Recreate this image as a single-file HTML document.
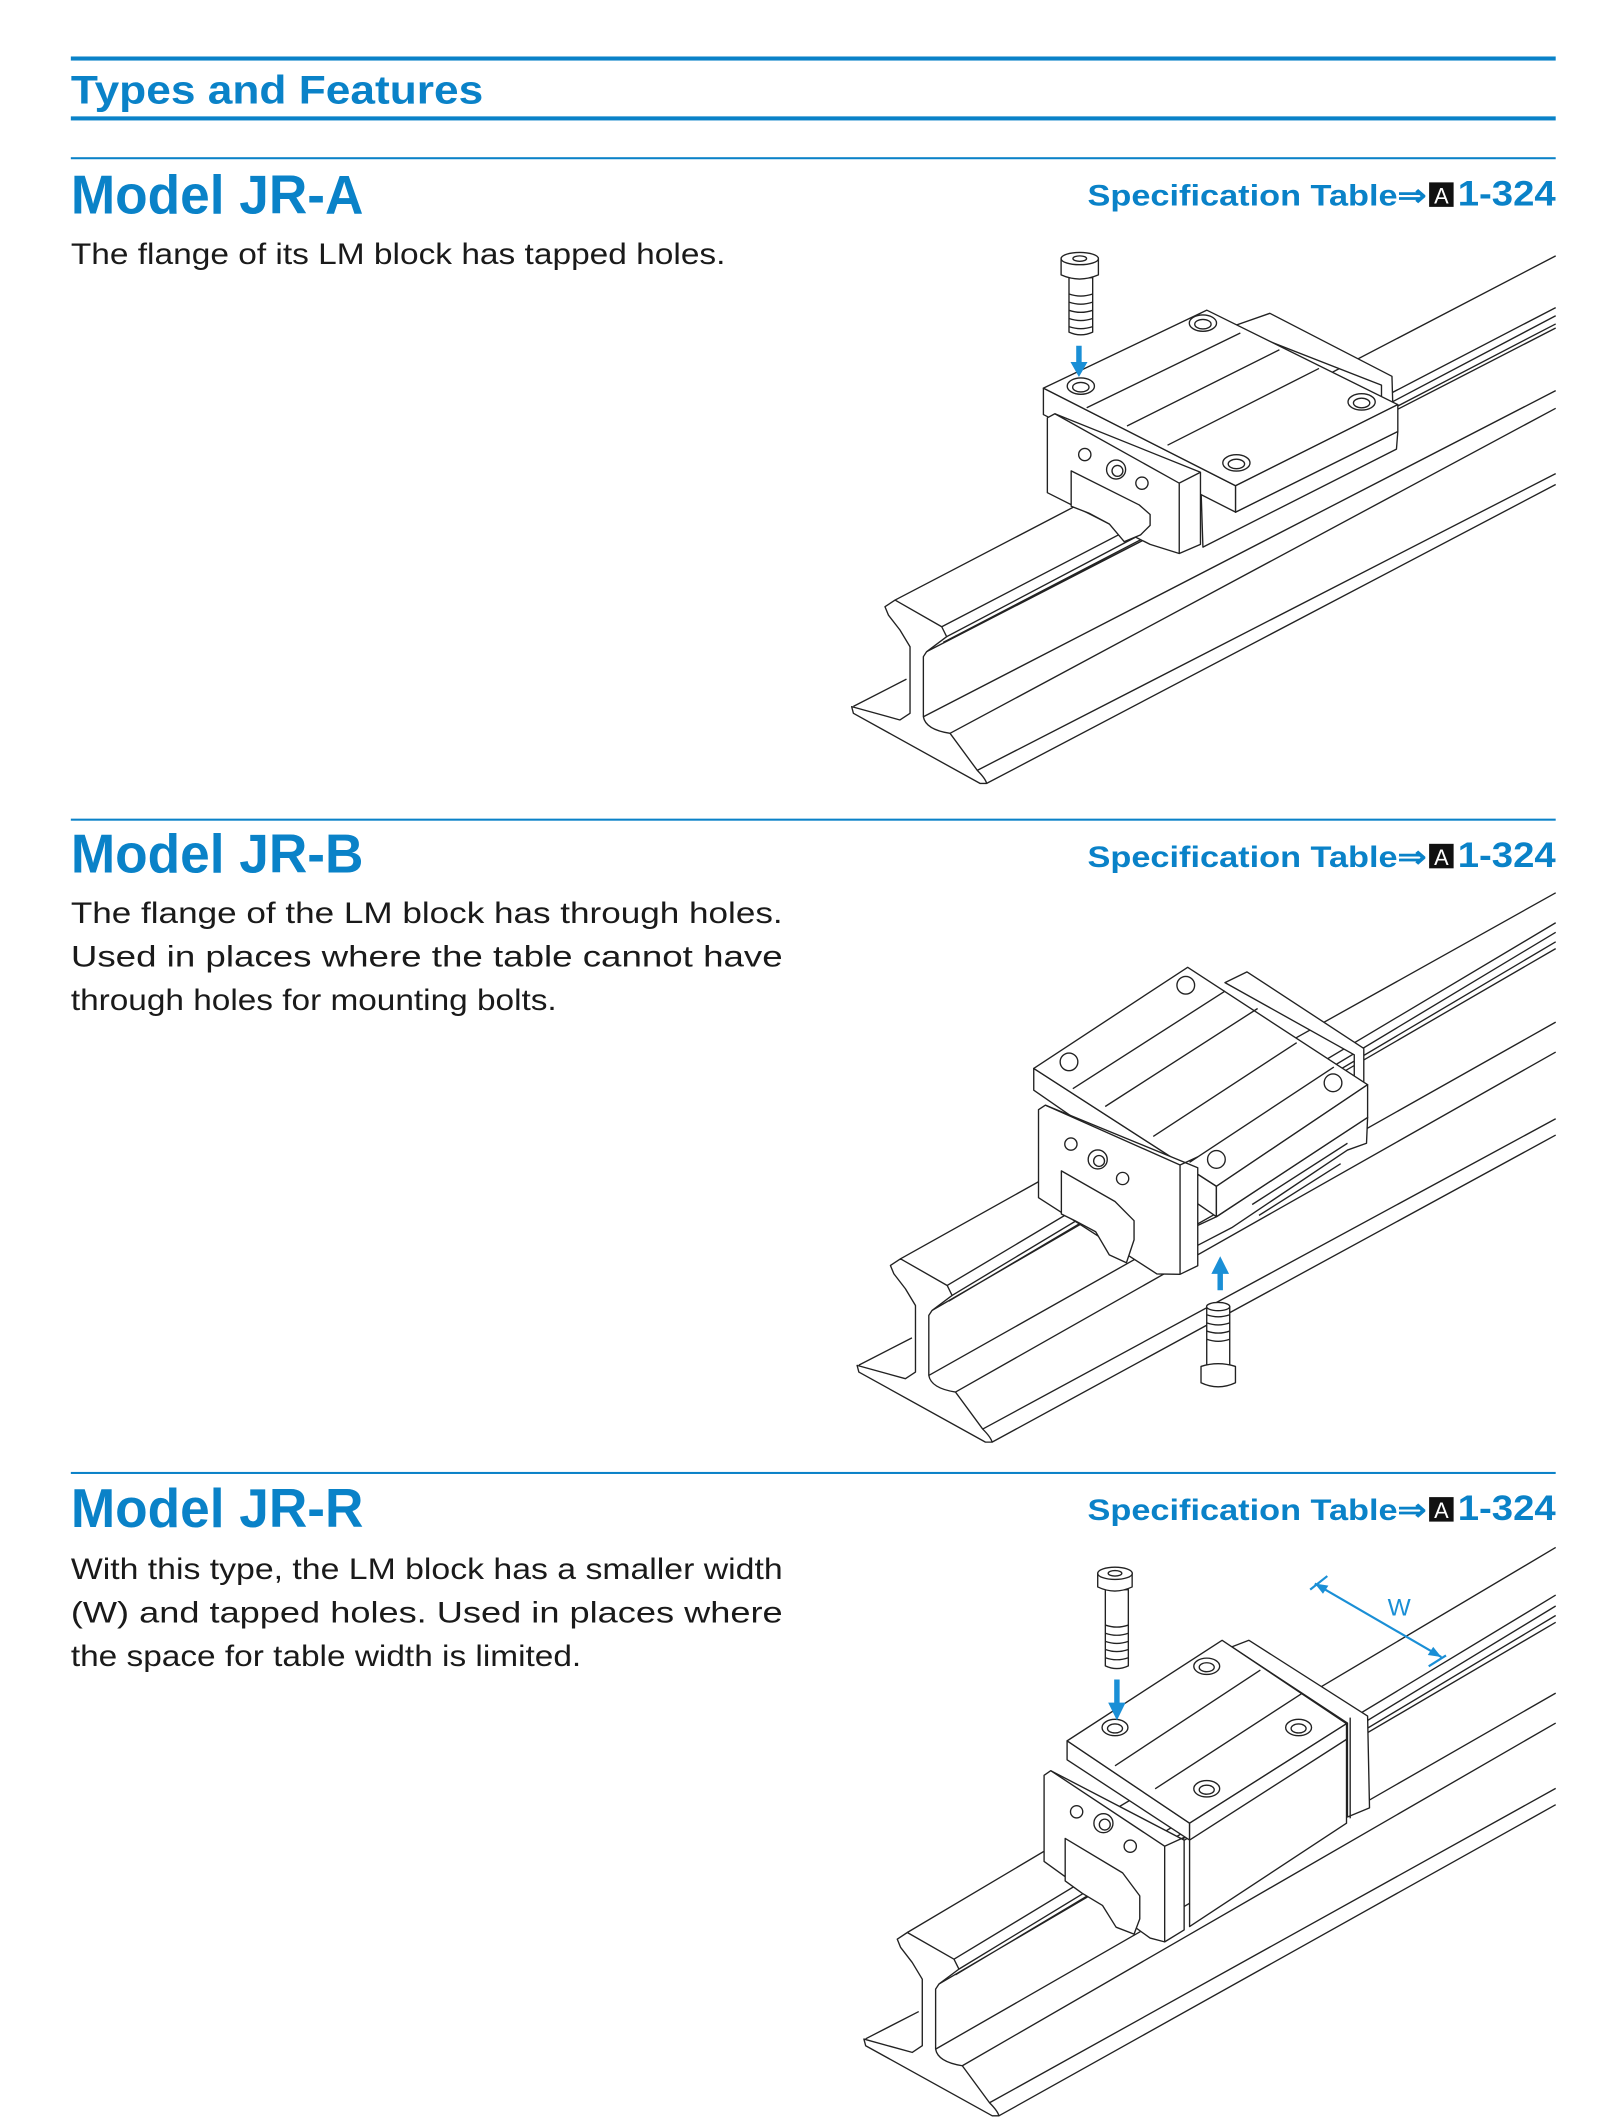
<!DOCTYPE html>
<html><head><meta charset="utf-8"><style>
html,body{margin:0;padding:0;background:#fff}
svg{display:block}
.h{font-family:"Liberation Sans Narrow","Liberation Sans",sans-serif;font-weight:bold;fill:#0a82c8}
.d{font-family:"Liberation Sans",sans-serif;fill:#1a1a1a;font-size:21.5px}
.s{font-family:"Liberation Sans",sans-serif;font-weight:bold;fill:#0a82c8}
.dr{fill:#fff;stroke:#222;stroke-width:1;stroke-linejoin:round}
.ln{fill:none;stroke:#222;stroke-width:1}
</style></head><body>
<svg width="1617" height="2121" viewBox="0 0 1188 1558.4" xmlns="http://www.w3.org/2000/svg">
<!-- header -->
<rect x="52" y="41.5" width="1091" height="3" fill="#0a82c8"/>
<text class="h" x="52" y="76" font-size="29" textLength="303" lengthAdjust="spacingAndGlyphs">Types and Features</text>
<rect x="52" y="85.5" width="1091" height="3" fill="#0a82c8"/>

<!-- section texts -->
<rect x="52" y="115.5" width="1091" height="1.5" fill="#0a82c8"/>
<text class="h" x="52" y="157" font-size="40" textLength="215" lengthAdjust="spacingAndGlyphs">Model JR-A</text>
<text class="d" x="52" y="194" textLength="481" lengthAdjust="spacingAndGlyphs">The flange of its LM block has tapped holes.</text>
<text class="s" x="799" y="151" font-size="22" textLength="249" lengthAdjust="spacingAndGlyphs">Specification Table⇒</text>
<rect x="1050" y="134" width="18" height="18" fill="#111"/><text x="1059" y="149.5" font-family="Liberation Sans,sans-serif" font-size="16" fill="#fff" text-anchor="middle">A</text>
<text class="s" x="1071" y="151" font-size="26" textLength="72" lengthAdjust="spacingAndGlyphs">1-324</text>

<rect x="52" y="601.5" width="1091" height="1.5" fill="#0a82c8"/>
<text class="h" x="52" y="641" font-size="40" textLength="215" lengthAdjust="spacingAndGlyphs">Model JR-B</text>
<text class="d" x="52" y="678" textLength="523" lengthAdjust="spacingAndGlyphs">The flange of the LM block has through holes.</text>
<text class="d" x="52" y="710" textLength="523" lengthAdjust="spacingAndGlyphs">Used in places where the table cannot have</text>
<text class="d" x="52" y="742" textLength="357" lengthAdjust="spacingAndGlyphs">through holes for mounting bolts.</text>
<text class="s" x="799" y="637" font-size="22" textLength="249" lengthAdjust="spacingAndGlyphs">Specification Table⇒</text>
<rect x="1050" y="620" width="18" height="18" fill="#111"/><text x="1059" y="635.5" font-family="Liberation Sans,sans-serif" font-size="16" fill="#fff" text-anchor="middle">A</text>
<text class="s" x="1071" y="637" font-size="26" textLength="72" lengthAdjust="spacingAndGlyphs">1-324</text>

<rect x="52" y="1081.5" width="1091" height="1.5" fill="#0a82c8"/>
<text class="h" x="52" y="1122" font-size="40" textLength="215" lengthAdjust="spacingAndGlyphs">Model JR-R</text>
<text class="d" x="52" y="1160" textLength="523" lengthAdjust="spacingAndGlyphs">With this type, the LM block has a smaller width</text>
<text class="d" x="52" y="1192" textLength="523" lengthAdjust="spacingAndGlyphs">(W) and tapped holes. Used in places where</text>
<text class="d" x="52" y="1224" textLength="375" lengthAdjust="spacingAndGlyphs">the space for table width is limited.</text>
<text class="s" x="799" y="1117" font-size="22" textLength="249" lengthAdjust="spacingAndGlyphs">Specification Table⇒</text>
<rect x="1050" y="1100" width="18" height="18" fill="#111"/><text x="1059" y="1115.5" font-family="Liberation Sans,sans-serif" font-size="16" fill="#fff" text-anchor="middle">A</text>
<text class="s" x="1071" y="1117" font-size="26" textLength="72" lengthAdjust="spacingAndGlyphs">1-324</text>

<!-- ============ SECTION 1 DRAWING ============ -->
<g>
<path class="ln" d="M657.6,440.9 L1143,188 M691.9,460.5 L1143,226 M695.5,467.8 L1143,232 M693,472 L1143,238 M680.8,478.8 L1143,241 M678.4,526.6 L1143,287 M698,538.8 L1143,300 M718,566 L1143,348 M724.9,575.6 L1143,356 M627,519 L666,499"/>
<path class="dr" d="M650.2,445.8 L657.6,440.9 L691.9,460.5 L695.5,467.8 L680.8,478.8 L678.4,482.5 L678.4,526.6 Q680,536 698,538.8 L718,566 Q724,572 724.9,575.6 L720,575.6 L627,524.1 L625.7,519.2 L661.2,529 L668.6,524.1 L668.6,475.2 L661.2,462.9 L652.7,451.9 Z"/>
<!-- block -->
<path class="dr" d="M905,240 L933,230.2 L1022.7,276.5 L1024,322 L1015,325 L1015,283 Z"/>
<path class="dr" d="M882,347 L907.8,356.9 L907.8,376.3 L1027,317 L1026,330 L883.8,402 Z"/>
<path class="dr" d="M766.6,285.2 L907.8,356.9 L907.8,376.3 L766.6,304.6 Z"/>
<path class="dr" d="M766.6,285.2 L886.7,227.9 L1027,297.3 L907.8,356.9 Z"/>
<path class="dr" d="M1027,297.3 L1027,317 L907.8,376.3 L907.8,356.9 Z"/>
<path class="ln" d="M798.4,299.6 L911.3,244.7 M857.8,327.1 L969.1,270.7 M828,313 L940,257"/>
<path class="dr" d="M769.5,307 L775,304 L882,347 L882,400 L866.4,406.7 L845,400 L769.5,362 Z"/>
<path class="ln" d="M866.4,355 L866.4,406.7 M775,304 L866.4,355 L882,347"/>
<path class="dr" d="M787,346 L837,371 L845,378 L845,386 L838,393 L826,398 L815,385 L800,377 L787,372 Z"/>
<ellipse class="dr" cx="794.1" cy="283.7" rx="10" ry="6"/><ellipse class="ln" cx="794.1" cy="284.5" rx="6" ry="3.5"/>
<ellipse class="dr" cx="883.8" cy="237.4" rx="10" ry="6"/><ellipse class="ln" cx="883.8" cy="238.2" rx="6" ry="3.5"/>
<ellipse class="dr" cx="1000.4" cy="295.3" rx="10" ry="6"/><ellipse class="ln" cx="1000.4" cy="296.1" rx="6" ry="3.5"/>
<ellipse class="dr" cx="908.4" cy="340.1" rx="10" ry="6"/><ellipse class="ln" cx="908.4" cy="340.9" rx="6" ry="3.5"/>
<circle class="dr" cx="797" cy="334" r="4.5"/><circle class="dr" cx="820" cy="345" r="7"/><circle class="ln" cx="821" cy="346" r="4"/><circle class="dr" cx="839" cy="355" r="4.5"/>
<!-- bolt -->
<path class="dr" d="M785.4,204 L785.4,244 Q794,248 802.8,244 L802.8,204 Z"/>
<path class="ln" d="M785.4,216 Q794,219 802.8,216 M785.4,222 Q794,225 802.8,222 M785.4,228 Q794,231 802.8,228 M785.4,234 Q794,237 802.8,234 M785.4,240 Q794,243 802.8,240"/>
<path class="dr" d="M779.6,190 L779.6,202 Q793,208 807,202 L807,190 Z"/>
<ellipse class="dr" cx="793.3" cy="190" rx="13.7" ry="4.5"/><ellipse class="ln" cx="793.3" cy="190" rx="5" ry="2"/>
<path d="M790.7,254 L794.7,254 L794.7,266 L799,266 L792.7,277 L786.5,266 L790.7,266 Z" fill="#1a8fd6"/>
</g>

<!-- ============ SECTION 2 DRAWING ============ -->
<g>
<g transform="translate(4,484)">
<path class="ln" d="M657.6,440.9 L1139,172 M691.9,460.5 L1139,194 M695.5,467.8 L1139,201 M693,472 L1139,208 M680.8,478.8 L1139,213 M678.4,526.6 L1139,267 M698,538.8 L1139,289 M718,566 L1139,338 M724.9,575.6 L1139,350 M627,519 L666,499"/>
<path class="dr" d="M650.2,445.8 L657.6,440.9 L691.9,460.5 L695.5,467.8 L680.8,478.8 L678.4,482.5 L678.4,526.6 Q680,536 698,538.8 L718,566 Q724,572 724.9,575.6 L720,575.6 L627,524.1 L625.7,519.2 L661.2,529 L668.6,524.1 L668.6,475.2 L661.2,462.9 L652.7,451.9 Z"/>
</g>
<path class="dr" d="M900,722 L916.2,714.1 L1002,770.3 L1002,838 L995,840 L995,775 Z"/>
<path class="dr" d="M893.7,894 L1004.8,821 L1004,840 L990,845 L905,902 L880,915 L870,905 Z"/>
<path class="ln" d="M920,885 L990,840 M925,893 L985,855"/>
<path class="dr" d="M759.5,785 L893.7,871.6 L893.7,894 L759.5,801 Z"/>
<path class="dr" d="M759.5,785 L872.6,710.7 L1004.8,797 L893.7,871.6 Z"/>
<path class="dr" d="M1004.8,797 L1004.8,821 L893.7,894 L893.7,871.6 Z"/>
<path class="ln" d="M788.2,799.9 L900.1,728.2 M847.3,835 L952.7,766.1 M812,813 L924,741 M874,854 L980,784"/>
<path class="dr" d="M763,815.3 L768,812 L880,858 L880,930 L867,936.3 L850,936 L763,880 Z"/>
<path class="ln" d="M867,856 L867,936.3 M768,812 L867,856 L880,850"/>
<path class="dr" d="M779.8,860.3 L819.2,882.8 L833.2,896.9 L833.2,911 L827.6,927.8 L815,922 L805,905 L790,897 L779.8,892 Z"/>
<circle class="dr" cx="871.2" cy="723.9" r="6.5"/><circle class="dr" cx="785.4" cy="780.2" r="6.5"/><circle class="dr" cx="979.4" cy="795.6" r="6.5"/><circle class="dr" cx="893.7" cy="851.9" r="6.5"/>
<circle class="dr" cx="786.8" cy="840.6" r="4.5"/><circle class="dr" cx="806.5" cy="851.9" r="7"/><circle class="ln" cx="807.5" cy="853" r="4"/><circle class="dr" cx="824.8" cy="865.9" r="4.5"/>
<!-- arrow up -->
<path d="M894.5,948 L898.5,948 L898.5,936 L903,936 L896.5,923 L890,936 L894.5,936 Z" fill="#1a8fd6"/>
<!-- bolt upside down -->
<path class="dr" d="M886.6,960 L886.6,1003.7 L903.5,1003.7 L903.5,960 Q895,956 886.6,960 Z"/>
<ellipse class="dr" cx="895" cy="960" rx="8.5" ry="3"/>
<path class="ln" d="M886.6,966 Q895,969 903.5,966 M886.6,972 Q895,975 903.5,972 M886.6,978 Q895,981 903.5,978 M886.6,984 Q895,987 903.5,984"/>
<path class="dr" d="M882.4,1004 L882.4,1016 Q895,1022 907.7,1016 L907.7,1004 Q895,1000 882.4,1004 Z"/>
</g>

<!-- ============ SECTION 3 DRAWING ============ -->
<g>
<g transform="translate(9,979)">
<path class="ln" d="M657.6,440.9 L1134,158 M691.9,460.5 L1134,193 M695.5,467.8 L1134,201 M693,472 L1134,208 M680.8,478.8 L1134,213 M678.4,526.6 L1134,265 M698,538.8 L1134,287 M718,566 L1134,335 M724.9,575.6 L1134,347 M627,519 L666,499"/>
<path class="dr" d="M650.2,445.8 L657.6,440.9 L691.9,460.5 L695.5,467.8 L680.8,478.8 L678.4,482.5 L678.4,526.6 Q680,536 698,538.8 L718,566 Q724,572 724.9,575.6 L720,575.6 L627,524.1 L625.7,519.2 L661.2,529 L668.6,524.1 L668.6,475.2 L661.2,462.9 L652.7,451.9 Z"/>
</g>
<path class="dr" d="M905,1210 L917.6,1205.2 L1004.8,1260.9 L1006.2,1328.3 L990,1335 L990,1266 Z"/>
<path class="ln" d="M992,1262 L992,1336"/>
<path class="dr" d="M784,1279.1 L874,1339.6 L874,1352 L784,1293 Z"/>
<path class="dr" d="M784,1279.1 L897.9,1205.2 L989.3,1266.5 L874,1339.6 Z"/>
<path class="dr" d="M989.3,1266.5 L989.3,1339.6 L874,1415.5 L874,1339.6 Z"/>
<path class="ln" d="M819.2,1297.4 L926,1227.1 M848.7,1314.3 L957,1244 M874,1352 L989.3,1278"/>
<path class="dr" d="M767.1,1304.4 L772,1301 L870,1352 L870,1418 L855.7,1426.8 L845,1424 L767.1,1367.7 Z"/>
<path class="ln" d="M855.7,1356.5 L855.7,1426.8 M772,1301 L855.7,1356.5 L870,1350"/>
<path class="dr" d="M782.6,1350.8 L824.8,1376.1 L837.4,1393 L837.4,1409.9 L833.2,1421.1 L820,1416 L810,1400 L795,1391 L782.6,1382 Z"/>
<ellipse class="dr" cx="886.6" cy="1224.3" rx="9.5" ry="6"/><ellipse class="ln" cx="886.6" cy="1225" rx="5.5" ry="3.3"/>
<ellipse class="dr" cx="819.2" cy="1269.3" rx="9.5" ry="6"/><ellipse class="ln" cx="819.2" cy="1270" rx="5.5" ry="3.3"/>
<ellipse class="dr" cx="954.1" cy="1269.3" rx="9.5" ry="6"/><ellipse class="ln" cx="954.1" cy="1270" rx="5.5" ry="3.3"/>
<ellipse class="dr" cx="886.6" cy="1314.3" rx="9.5" ry="6"/><ellipse class="ln" cx="886.6" cy="1315" rx="5.5" ry="3.3"/>
<circle class="dr" cx="791" cy="1331.2" r="4.5"/><circle class="dr" cx="810.7" cy="1339.6" r="7"/><circle class="ln" cx="811.7" cy="1340.6" r="4"/><circle class="dr" cx="830.4" cy="1356.5" r="4.5"/>
<!-- bolt -->
<path class="dr" d="M812.1,1168 L812.1,1224 Q820.5,1228 829,1224 L829,1168 Z"/>
<path class="ln" d="M812.1,1194 Q820.5,1197 829,1194 M812.1,1200 Q820.5,1203 829,1200 M812.1,1206 Q820.5,1209 829,1206 M812.1,1212 Q820.5,1215 829,1212 M812.1,1218 Q820.5,1221 829,1218"/>
<path class="dr" d="M806.5,1156 L806.5,1166 Q819,1172 831.8,1166 L831.8,1156 Z"/>
<ellipse class="dr" cx="819.2" cy="1156" rx="12.7" ry="4.5"/><ellipse class="ln" cx="819.2" cy="1156" rx="5" ry="2"/>
<path d="M818.6,1234 L822.6,1234 L822.6,1251 L827,1251 L820.6,1264 L814.2,1251 L818.6,1251 Z" fill="#1a8fd6"/>
<!-- W dimension -->
<path d="M966,1163.5 L1059,1217.5 M962.6,1168 L975.2,1158 M1049.7,1224.3 L1062.4,1216.3" stroke="#1a8fd6" stroke-width="1.6" fill="none"/>
<path d="M966,1163.5 L976,1165 L972,1171 Z M1059,1217.5 L1049,1216 L1053,1210 Z" fill="#1a8fd6"/>
<text x="1028" y="1187" font-family="Liberation Sans,sans-serif" font-size="18" fill="#1a8fd6" text-anchor="middle">W</text>
</g>
</svg>
</body></html>
